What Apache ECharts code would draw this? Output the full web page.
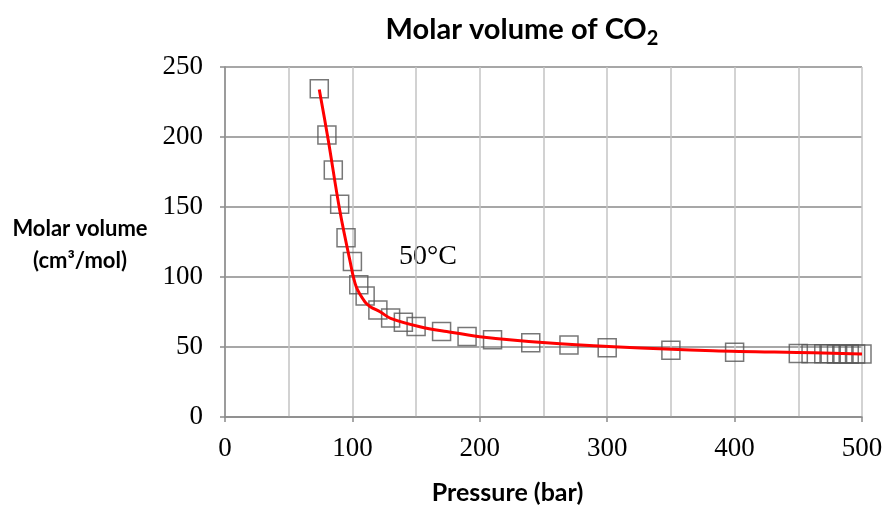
<!DOCTYPE html>
<html>
<head>
<meta charset="utf-8">
<script src="https://cdn.jsdelivr.net/npm/echarts@6/dist/echarts.min.js"></script>
<style>
  html, body { margin: 0; padding: 0; background: #fff; }
  #chart { width: 886px; height: 510px; }
</style>
</head>
<body>
<div id="chart"></div>
<script>
// Measured molar volume of CO2 at 50 °C (pressure in bar, volume in cm3/mol)
const pressure = [74, 80, 85, 90, 95, 100, 105, 110, 120, 130, 140, 150, 170, 190, 210, 240, 270, 300, 350, 400, 450, 460, 470, 475, 480, 485, 490, 495, 500];
const volume   = [234.5, 201.5, 176.5, 152, 128, 111, 94.5, 86.5, 76.5, 70.8, 67.6, 64.6, 61, 57.5, 55.2, 53, 51.4, 49.5, 47.6, 46.2, 45.3, 45.2, 45.1, 45.1, 45, 45, 45, 45, 45];

// Equation-of-state curve
const curveP = [74, 81, 90, 98, 103, 110, 114, 122, 130, 153, 174, 200, 252, 305, 383, 462, 500];
const curveV = [234, 198, 148, 112, 93, 82, 78.8, 75, 70.5, 64.5, 61, 57.4, 53, 50.2, 47.4, 45.9, 45];

const xTicks = [0, 100, 200, 300, 400, 500];
const yTicks = [0, 50, 100, 150, 200, 250];

const points = pressure.map((p, i) => [p, volume[i]]);
const curve = curveP.map((p, i) => [p, curveV[i]]);

const chart = echarts.init(document.getElementById('chart'), null, { renderer: 'canvas' });

chart.setOption({
  animation: false,
  backgroundColor: '#fff',
  grid: { left: 225, right: 24, top: 67, bottom: 93, containLabel: false },
  title: {
    text: 'Molar volume of CO{sub|2}',
    left: 517,
    top: 6,
    textAlign: 'center',
    textStyle: {
      fontFamily: 'Lato',
      fontWeight: 'bold',
      fontSize: 29,
      color: '#000',
      rich: {
        sub: { fontFamily: 'Lato', fontWeight: 'bold', fontSize: 20, color: '#000', verticalAlign: 'bottom', padding: [18, 0, 0, 0] }
      }
    }
  },
  xAxis: {
    type: 'value',
    min: xTicks[0],
    max: xTicks[xTicks.length - 1],
    interval: 100,
    axisLine: { show: true, lineStyle: { color: '#8a8a8a', width: 1.5 } },
    axisTick: { show: true, length: 5, inside: false, lineStyle: { color: '#8a8a8a', width: 1.5 } },
    minorTick: { show: false, splitNumber: 2 },
    splitLine: { show: true, lineStyle: { color: '#c4c4c4', width: 1.5 } },
    minorSplitLine: { show: true, lineStyle: { color: '#c4c4c4', width: 1.5 } },
    axisLabel: { fontFamily: 'Liberation Serif', fontSize: 27, color: '#000', margin: 18 },
    name: 'Pressure (bar)',
    nameLocation: 'middle',
    nameGap: 63,
    nameTextStyle: { fontFamily: 'Lato', fontWeight: 'bold', fontSize: 25, color: '#000', padding: [0, 72, 0, 0] }
  },
  yAxis: {
    type: 'value',
    min: yTicks[0],
    max: yTicks[yTicks.length - 1],
    interval: 50,
    axisLine: { show: true, lineStyle: { color: '#8a8a8a', width: 1.5 } },
    axisTick: { show: true, length: 5, lineStyle: { color: '#8a8a8a', width: 1.5 } },
    splitLine: { show: true, lineStyle: { color: '#8a8a8a', width: 1.5 } },
    axisLabel: { fontFamily: 'Liberation Serif', fontSize: 27, color: '#000', margin: 22 }
  },
  graphic: [
    {
      type: 'text',
      x: 80,
      y: 213,
      style: {
        text: 'Molar volume\n(cm³/mol)',
        fontFamily: 'Lato',
        fontWeight: 'bold',
        fontSize: 22,
        lineHeight: 32,
        fill: '#000',
        align: 'center',
        verticalAlign: 'top'
      }
    },
    {
      type: 'text',
      x: 399,
      y: 243,
      style: {
        text: '50°C',
        fontFamily: 'Liberation Serif',
        fontSize: 28,
        fill: '#000',
        align: 'left',
        verticalAlign: 'top'
      }
    }
  ],
  series: [
    {
      type: 'scatter',
      data: points,
      symbol: 'rect',
      symbolSize: 18,
      itemStyle: { color: 'rgba(0,0,0,0)', borderColor: '#555555', borderWidth: 1.5 },
      z: 2
    },
    {
      type: 'line',
      data: curve,
      smooth: 0.35,
      showSymbol: false,
      lineStyle: { color: '#ff0000', width: 3 },
      z: 3
    }
  ]
});
</script>
</body>
</html>
